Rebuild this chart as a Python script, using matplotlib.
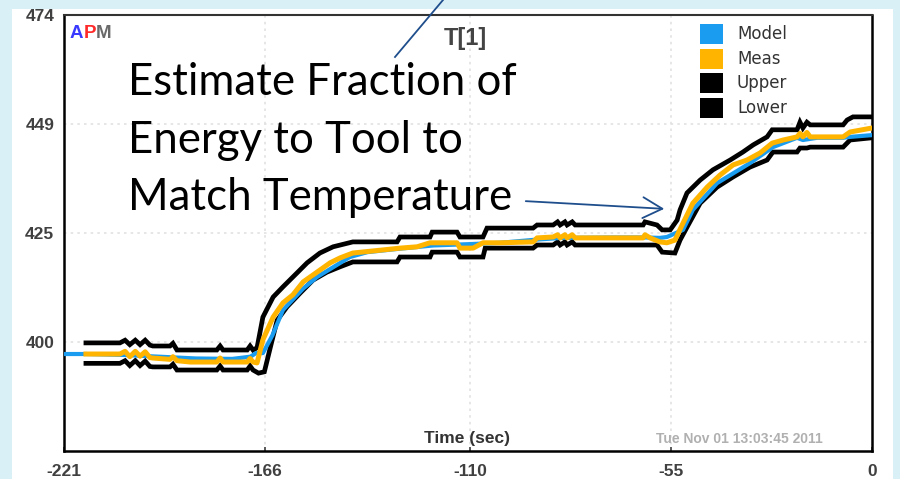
import matplotlib
matplotlib.use("Agg")
import matplotlib.pyplot as plt
from matplotlib.patches import Rectangle, FancyArrowPatch
from matplotlib.lines import Line2D

# ---- data ----
meas_t = [-215.0, -205.7, -204.3, -203.0, -201.5, -200.2, -198.8, -197.5, -196.7, -192.0,
          -191.2, -190.1, -186.5, -179.2, -178.3, -177.5, -170.9, -170.1, -169.3, -168.2,
          -166.6, -163.8, -161.1, -158.4, -155.6, -151.8, -148.2, -145.5, -142.0, -133.7,
          -129.1, -124.4, -120.9, -113.5, -112.7, -109.1, -106.4, -101.7, -92.7, -91.6,
          -87.2, -86.0, -85.3, -84.0, -83.4, -82.0, -81.2, -79.0, -62.6, -62.1,
          -60.7, -58.0, -56.1, -53.9, -51.7, -49.0, -45.1, -41.6, -38.0, -34.2,
          -30.6, -27.3, -24.3, -20.5, -19.7, -18.9, -17.8, -16.9, -7.9, -6.0, 0.0]
meas_v = [397.8, 397.8, 398.4, 397.2, 398.4, 397.3, 398.3, 397.0, 396.9, 396.6,
          397.2, 396.3, 396.0, 396.0, 396.9, 396.0, 396.0, 396.8, 396.0, 395.8,
          401.0, 406.1, 409.3, 411.1, 414.0, 416.2, 418.3, 419.4, 420.5, 421.2,
          421.6, 421.9, 422.8, 422.8, 421.6, 421.6, 422.8, 422.8, 423.0, 423.9,
          424.1, 424.6, 423.9, 424.6, 423.9, 424.6, 423.9, 423.9, 423.9, 424.6,
          423.9, 423.0, 422.8, 423.4, 427.2, 431.7, 435.3, 438.0, 440.3, 441.4,
          443.0, 445.2, 445.9, 446.6, 447.4, 446.6, 447.6, 446.6, 446.6, 447.7, 448.6]

model_t = [-221.0, -215.0, -205.0, -195.0, -185.0, -175.0, -170.0, -168.5, -166.6, -164.0,
           -161.1, -155.6, -151.8, -147.0, -142.8, -138.0, -130.0, -120.0, -110.0, -101.7,
           -92.0, -85.0, -70.0, -62.0, -58.0, -56.1, -51.7, -49.0, -42.4, -33.4,
           -27.1, -20.5, -18.9, -15.0, -7.9, -6.0, 0.0]
model_v = [397.8, 397.8, 397.6, 397.2, 396.8, 396.7, 397.2, 398.0, 398.0, 402.0,
           407.7, 412.5, 415.1, 417.5, 419.6, 420.7, 421.4, 422.2, 422.5, 422.8,
           423.5, 423.9, 424.0, 424.0, 423.9, 424.1, 425.7, 430.2, 436.2, 440.7,
           444.3, 446.4, 445.9, 446.4, 446.4, 446.6, 447.0]

upper_t = [-215.0, -205.7, -204.3, -203.0, -201.5, -200.2, -198.8, -197.5, -196.7, -192.0,
           -191.2, -190.1, -179.2, -178.3, -177.5, -170.9, -170.1, -169.3, -168.2, -166.6,
           -163.8, -161.1, -157.3, -154.5, -151.0, -147.4, -142.0, -129.9, -129.1, -120.9,
           -120.3, -113.5, -112.7, -106.4, -105.3, -92.7, -91.6, -87.2, -86.0, -85.3,
           -84.0, -83.4, -82.0, -81.2, -79.0, -62.6, -62.1, -58.8, -57.4, -55.2,
           -53.3, -52.5, -50.6, -47.0, -43.5, -38.8, -35.3, -32.5, -28.7, -27.3,
           -20.5, -19.7, -18.9, -17.8, -16.9, -7.9, -6.8, -5.2, 0.0]
upper_v = [400.3, 400.3, 400.9, 399.9, 400.9, 399.9, 400.9, 399.8, 399.6, 399.6,
           400.2, 398.7, 398.7, 399.6, 398.7, 398.7, 399.6, 398.7, 399.2, 406.1,
           410.6, 412.9, 416.0, 418.3, 420.5, 421.9, 423.0, 423.0, 424.1, 424.1,
           425.2, 425.2, 424.1, 424.1, 426.1, 426.1, 426.8, 426.8, 427.5, 426.8,
           427.5, 426.8, 427.5, 426.8, 426.8, 426.8, 427.5, 426.8, 425.7, 425.7,
           427.9, 430.2, 434.0, 436.9, 439.2, 441.4, 443.2, 444.8, 446.6, 448.2,
           448.2, 449.9, 448.6, 449.9, 449.3, 449.3, 450.4, 451.1, 451.1]

lower_t = [-215.0, -205.7, -204.3, -203.0, -201.5, -200.2, -198.8, -197.5, -196.7, -192.0,
           -191.2, -190.1, -179.2, -178.3, -177.5, -170.9, -170.1, -169.3, -167.8, -166.2,
           -164.5, -162.7, -160.0, -156.4, -152.9, -149.1, -145.5, -142.0, -129.9, -129.1,
           -120.9, -120.3, -113.5, -112.7, -106.4, -105.8, -92.7, -91.6, -87.2, -86.0,
           -85.3, -84.0, -83.4, -82.0, -81.2, -79.0, -58.8, -57.4, -53.9, -52.5,
           -50.6, -47.0, -42.4, -38.0, -33.4, -28.7, -27.1, -20.5, -19.7, -17.8,
           -16.9, -7.9, -6.0, 0.0]
lower_v = [395.7, 395.7, 396.3, 395.2, 396.3, 395.2, 396.2, 395.0, 394.9, 394.9,
           395.5, 394.2, 394.2, 395.1, 394.2, 394.2, 395.1, 394.2, 393.5, 393.8,
           399.5, 405.4, 408.4, 411.5, 414.4, 416.2, 417.4, 418.5, 418.5, 419.6,
           419.6, 420.7, 420.7, 419.6, 419.6, 421.6, 421.6, 422.3, 422.3, 423.0,
           422.3, 423.0, 422.3, 423.0, 422.3, 422.3, 422.3, 420.7, 420.5, 423.4,
           426.3, 431.7, 435.3, 437.6, 439.8, 441.4, 443.2, 443.2, 444.1, 444.1,
           444.3, 444.3, 445.9, 446.4]

x_ticks = [-221, -166, -110, -55, 0]
y_ticks = [400.5, 425, 449.5, 474]
y_tick_labels = ["400", "425", "449", "474"]
legend_names = ["Model", "Meas", "Upper", "Lower"]
legend_colors = ["#1a9cf0", "#ffb400", "#000000", "#000000"]
note_lines = ["Estimate Fraction of", "Energy to Tool to", "Match Temperature"]

W, H = 900, 479


def fx(x):
    return x / W


def fy(y):
    return 1 - y / H


fig = plt.figure(figsize=(W / 100, H / 100), dpi=100)
fig.patch.set_facecolor("#daf0f7")
fig.add_artist(Rectangle((fx(12), 0), fx(893) - fx(12), fy(9), transform=fig.transFigure,
                         facecolor="white", edgecolor="none", zorder=0))

ax = fig.add_axes([fx(64), fy(451), fx(872) - fx(64), fy(15) - fy(451)])
ax.set_xlim(-221, 0)
ax.set_ylim(376, 474)

# dotted grid, very faint
for t in x_ticks[1:-1]:
    ax.axvline(t, color="#e2e2e2", lw=1.2, ls=(0, (1.5, 2.5)), zorder=1)
for v in y_ticks[:-1]:
    ax.axhline(v, color="#e2e2e2", lw=1.2, ls=(0, (1.5, 2.5)), zorder=1)

ax.plot(upper_t, upper_v, color="black", lw=3.4, zorder=2, solid_joinstyle="miter")
ax.plot(lower_t, lower_v, color="black", lw=3.4, zorder=2, solid_joinstyle="miter")
ax.plot(model_t, model_v, color=legend_colors[0], lw=3.0, zorder=3)
ax.plot(meas_t, meas_v, color=legend_colors[1], lw=3.6, zorder=4)

tick_font = dict(family="Liberation Sans", weight="bold", size=12.5)
ax.set_xticks(x_ticks, labels=[str(t) for t in x_ticks], color="#404040", **tick_font)
ax.set_yticks(y_ticks, labels=y_tick_labels, color="#404040", **tick_font)
ax.tick_params(axis="x", direction="in", length=3, width=1.2, pad=9, colors="#404040")
ax.tick_params(axis="y", length=0, pad=7)
for s in ax.spines.values():
    s.set_linewidth(1.8)
    s.set_color("black")
ax.spines["top"].set_color("#333333")
ax.spines["top"].set_linewidth(1.5)

# APM logo
apm_font = dict(family="Liberation Sans", weight="bold", size=13.5, va="center")
t1 = fig.text(fx(70), fy(33), "A", color="#3a3aff", **apm_font)
fig.canvas.draw()
r = fig.canvas.get_renderer()
x_next = t1.get_window_extent(r).x1 / W
t2 = fig.text(x_next, fy(33), "P", color="#ff2a2a", **apm_font)
x_next = t2.get_window_extent(r).x1 / W
fig.text(x_next, fy(33), "M", color="#6a6a6a", **apm_font)

# title
fig.text(fx(465), fy(39), "T[1]", family="Liberation Sans", weight="bold", size=17,
         color="#444444", ha="center", va="center")

# legend
for i, (name, col) in enumerate(zip(legend_names, legend_colors)):
    yc = 34 + i * 24.7
    fig.add_artist(Rectangle((fx(700), fy(yc + 10)), fx(723) - fx(700), fy(yc - 10) - fy(yc + 10),
                             transform=fig.transFigure, facecolor=col, edgecolor="none", zorder=5))
    fig.text(fx(737), fy(yc), name, family="DejaVu Sans", size=12, color="#333333",
             va="center", ha="left")

# axis caption and timestamp
fig.text(fx(467), fy(438), "Time (sec)", family="Liberation Sans", weight="bold", size=12.5,
         color="#333333", ha="center", va="center")
fig.text(fx(823), fy(439), "Tue Nov 01 13:03:45 2011", family="Liberation Sans", weight="bold",
         size=10, color="#b0b0b0", ha="right", va="center")

# annotation text
for line, base in zip(note_lines, [95, 153, 210]):
    fig.text(fx(128), fy(base), line, family="Lato", size=31.5, color="black",
             ha="left", va="baseline")

arrow_col = "#1f4e8c"
fig.add_artist(FancyArrowPatch((523, H - 201), (667, H - 209), transform=None,
                               arrowstyle="->,head_length=1.4,head_width=0.75",
                               mutation_scale=10, lw=1.3, color=arrow_col, zorder=6))
fig.add_artist(Line2D([fx(395), fx(443)], [fy(57), fy(0)], transform=fig.transFigure,
                      color=arrow_col, lw=1.3, zorder=6))

fig.savefig("out.png", dpi=100, facecolor=fig.get_facecolor())
